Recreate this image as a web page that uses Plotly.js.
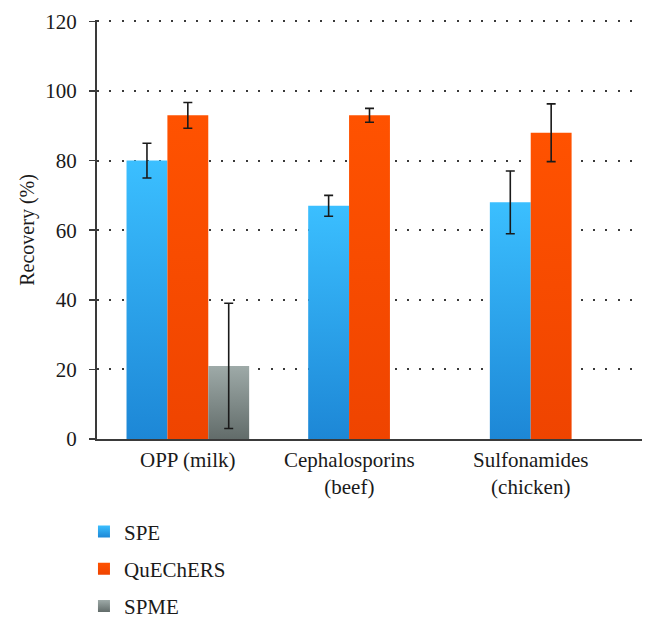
<!DOCTYPE html>
<html>
<head>
<meta charset="utf-8">
<script src="https://cdn.plot.ly/plotly-3.0.1.min.js"></script>
<style>
  html, body { margin: 0; padding: 0; background: #fff; }
  #chart { width: 656px; height: 629px; }
</style>
</head>
<body>
<div id="chart"></div>
<script>
// ---- data ----
const categories = ["OPP (milk)", "Cephalosporins<br>(beef)", "Sulfonamides<br>(chicken)"];
const seriesNames = ["SPE", "QuEChERS", "SPME"];
const speValues = [80, 67, 68];
const speErrors = [5, 3, 9];
const quechersValues = [93, 93, 88];
const quechersErrors = [3.7, 2, 8.3];
const spmeValues = [21, null, null];
const spmeErrors = [18, null, null];
const yTicks = [0, 20, 40, 60, 80, 100, 120];
const yTitle = "Recovery (%)";

// ---- styling ----
const FONT = "Liberation Serif, Times New Roman, serif";
const FS = 21;
const gradients = [
  { id: "gSPE", top: "#3bbfff", bottom: "#1d87d6", mid: "#2ba3ee" },
  { id: "gQUE", top: "#ff5200", bottom: "#ef4400", mid: "#f84b00" },
  { id: "gSPM", top: "#9eaaa8", bottom: "#626c6a", mid: "#818c8a" }
];
const bargap = 0.325;

const allValues = [speValues, quechersValues, spmeValues];
const allErrors = [speErrors, quechersErrors, spmeErrors];

const traces = seriesNames.map((name, k) => ({
  type: "bar",
  name: name,
  x: categories,
  y: allValues[k],
  legendgroup: name,
  marker: { color: gradients[k].mid, line: { width: 0 } },
  error_y: {
    type: "data",
    array: allErrors[k],
    visible: true,
    color: "#1a1a1a",
    thickness: 1.6,
    width: 4.5
  },
  hoverinfo: "skip"
}));

// category labels centred under the bars actually present
const nSeries = seriesNames.length;
const barW = (1 - bargap) / nSeries;
const annotations = categories.map((c, i) => {
  let missing = 0;
  for (let k = nSeries - 1; k >= 0; k--) {
    if (allValues[k][i] === null || allValues[k][i] === undefined) missing++;
    else break;
  }
  return {
    text: c,
    xref: "x",
    yref: "paper",
    x: i - missing * barW / 2,
    y: 0,
    yanchor: "top",
    xanchor: "center",
    yshift: -7,
    showarrow: false,
    font: { family: FONT, size: FS, color: "#1a1a1a" }
  };
});
// y-axis title
annotations.push({
  text: yTitle,
  xref: "paper",
  yref: "paper",
  x: -0.128,
  y: 0.5,
  xanchor: "center",
  yanchor: "middle",
  textangle: -90,
  showarrow: false,
  font: { family: FONT, size: 20, color: "#1a1a1a" }
});

const layout = {
  width: 656,
  height: 629,
  margin: { l: 97, r: 14, t: 20, b: 190, autoexpand: false },
  paper_bgcolor: "#ffffff",
  plot_bgcolor: "#ffffff",
  font: { family: FONT, size: FS, color: "#1a1a1a" },
  barmode: "group",
  bargap: bargap,
  bargroupgap: 0,
  showlegend: true,
  legend: {
    orientation: "v",
    xref: "container",
    yref: "container",
    x: 0.128,
    y: 0.1872,
    xanchor: "left",
    yanchor: "top",
    traceorder: "grouped",
    tracegroupgap: 7,
    font: { family: FONT, size: FS, color: "#1a1a1a" },
    bgcolor: "rgba(0,0,0,0)"
  },
  xaxis: {
    type: "category",
    showticklabels: false,
    ticks: "",
    showline: true,
    linecolor: "#3a3a3a",
    linewidth: 2,
    showgrid: false,
    zeroline: false,
    automargin: false,
    fixedrange: true
  },
  yaxis: {
    range: [0, 120.4],
    tickvals: yTicks,
    ticktext: yTicks.map(String),
    ticks: "outside",
    ticklen: 6,
    tickwidth: 1.5,
    tickcolor: "#3a3a3a",
    ticklabelstandoff: 8,
    showline: true,
    linecolor: "#3a3a3a",
    linewidth: 2,
    showgrid: true,
    gridcolor: "#3a3a3a",
    gridwidth: 2,
    griddash: "2px,10.4px",
    zeroline: false,
    automargin: false,
    tickfont: { family: FONT, size: FS, color: "#1a1a1a" },
    fixedrange: true
  },
  annotations: annotations
};

Plotly.newPlot("chart", traces, layout, { displayModeBar: false, staticPlot: true }).then(gd => {
  const svg = gd.querySelector("svg.main-svg");
  const NS = "http://www.w3.org/2000/svg";
  let defs = svg.querySelector("defs");
  if (!defs) { defs = document.createElementNS(NS, "defs"); svg.insertBefore(defs, svg.firstChild); }
  gradients.forEach(g => {
    const lg = document.createElementNS(NS, "linearGradient");
    lg.setAttribute("id", g.id);
    lg.setAttribute("x1", "0"); lg.setAttribute("y1", "0");
    lg.setAttribute("x2", "0"); lg.setAttribute("y2", "1");
    const s1 = document.createElementNS(NS, "stop");
    s1.setAttribute("offset", "0"); s1.setAttribute("stop-color", g.top);
    const s2 = document.createElementNS(NS, "stop");
    s2.setAttribute("offset", "1"); s2.setAttribute("stop-color", g.bottom);
    lg.appendChild(s1); lg.appendChild(s2);
    defs.appendChild(lg);
  });
  const barTraces = gd.querySelectorAll(".barlayer .trace");
  barTraces.forEach((t, k) => {
    t.querySelectorAll(".point path").forEach(p => { p.style.fill = "url(#" + gradients[k].id + ")"; });
  });
  const legTraces = gd.querySelectorAll(".legend .traces");
  legTraces.forEach((t, k) => {
    t.querySelectorAll(".legendpoints path").forEach(p => { p.style.fill = "url(#" + gradients[k].id + ")"; });
  });
});
</script>
</body>
</html>
